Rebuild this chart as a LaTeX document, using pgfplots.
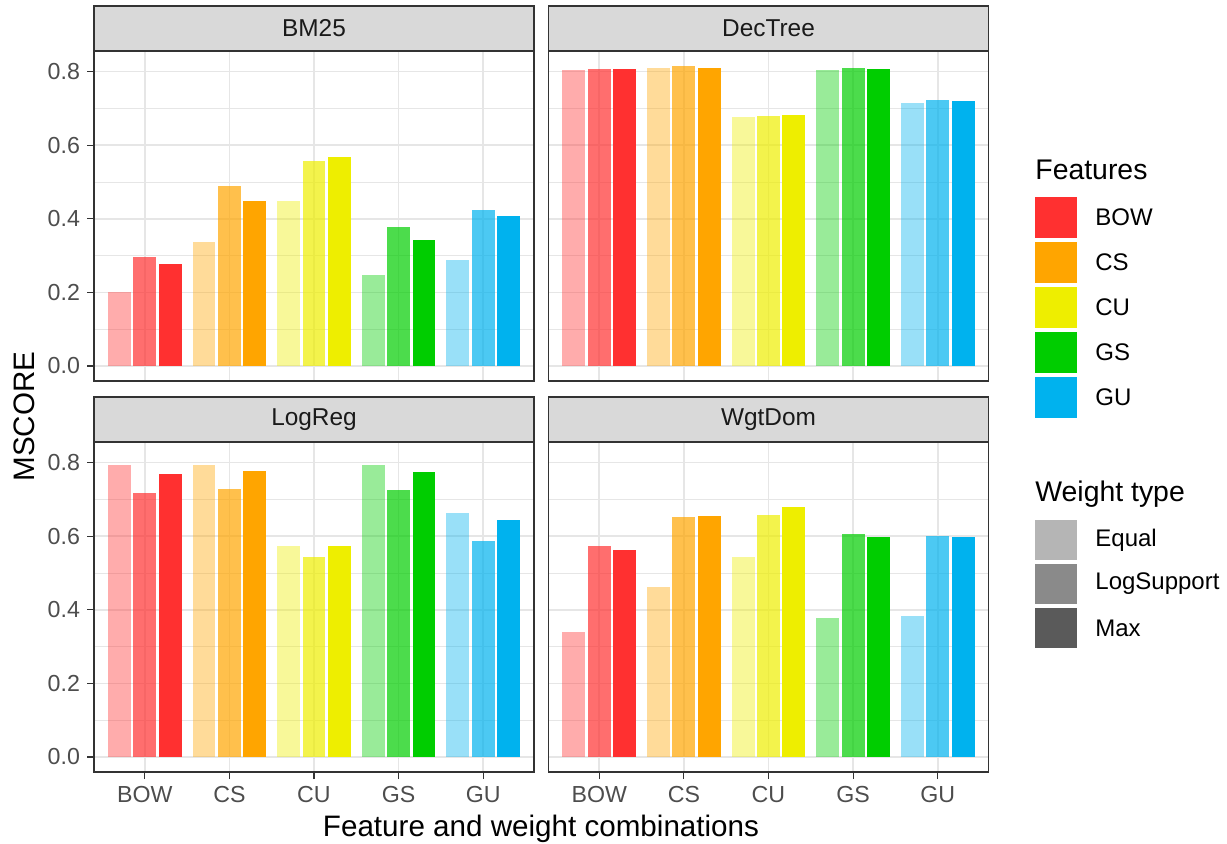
\documentclass[border=0pt]{standalone}
\usepackage{pgfplots}
\pgfplotsset{compat=1.18}
\usepackage{fontspec}
\setmainfont{Liberation Sans}
\definecolor{cBOW}{HTML}{FF3030}
\definecolor{cCS}{HTML}{FFA500}
\definecolor{cCU}{HTML}{EEEE00}
\definecolor{cGS}{HTML}{00CD00}
\definecolor{cGU}{HTML}{00B2EE}
\definecolor{gridc}{HTML}{E6E6E6}
\definecolor{g10}{HTML}{1A1A1A}
\definecolor{g20}{HTML}{333333}
\definecolor{g30}{HTML}{4D4D4D}
\definecolor{g85}{HTML}{D9D9D9}
\definecolor{wEq}{HTML}{B5B5B5}
\definecolor{wLs}{HTML}{8A8A8A}
\definecolor{wMx}{HTML}{5A5A5A}
\pgfplotsset{
  panel/.style={
    scale only axis, width=220pt, height=165pt, anchor=south west,
    xmin=0.4, xmax=5.6, ymin=-0.041, ymax=0.856,
    xtick={1,2,3,4,5}, xticklabels={BOW,CS,CU,GS,GU},
    ytick={0,0.2,0.4,0.6,0.8}, yticklabels={0.0,0.2,0.4,0.6,0.8},
    minor ytick={0.1,0.3,0.5,0.7},
    xmajorgrids, ymajorgrids, yminorgrids,
    major grid style={draw=gridc, line width=0.8pt},
    minor grid style={draw=gridc, line width=0.45pt},
    axis line style={draw=g20, line width=0.75pt},
    tick align=outside, major tick length=3.5pt, minor tick length=0pt,
    tick style={draw=g20, line width=0.6pt},
    ticklabel style={font=\fontsize{11.6}{13}\selectfont, text=g30},
    ytick pos=left, xtick pos=bottom,
  },
  notop/.style={xticklabels={}, xtick style={draw=none}},
  noleft/.style={yticklabels={}, ytick style={draw=none}},
  eq/.style={ybar, bar width=0.27, bar shift=-0.3, draw=none, fill=#1, fill opacity=0.4},
  ls/.style={ybar, bar width=0.27, bar shift=0, draw=none, fill=#1, fill opacity=0.7},
  mx/.style={ybar, bar width=0.27, bar shift=0.3, draw=none, fill=#1},
}
\newcommand\strip[2]{%
  \draw[fill=g85, draw=g20, line width=0.75pt] (#1.north west) rectangle ([yshift=22.5pt]#1.north east);
  \node[font=\fontsize{12.2}{14}\selectfont, text=g10] at ([yshift=11.25pt]#1.north) {#2};}
\begin{document}
\begin{tikzpicture}
\useasboundingbox (0,0) rectangle (613.5pt,-421.5pt);
% BM25
\begin{axis}[panel, notop, name=bm, at={(47pt,-190.5pt)}]
\addplot[eq=cBOW] coordinates {(1,0.200)};
\addplot[ls=cBOW] coordinates {(1,0.296)};
\addplot[mx=cBOW] coordinates {(1,0.278)};
\addplot[eq=cCS] coordinates {(2,0.336)};
\addplot[ls=cCS] coordinates {(2,0.488)};
\addplot[mx=cCS] coordinates {(2,0.448)};
\addplot[eq=cCU] coordinates {(3,0.448)};
\addplot[ls=cCU] coordinates {(3,0.556)};
\addplot[mx=cCU] coordinates {(3,0.569)};
\addplot[eq=cGS] coordinates {(4,0.246)};
\addplot[ls=cGS] coordinates {(4,0.378)};
\addplot[mx=cGS] coordinates {(4,0.342)};
\addplot[eq=cGU] coordinates {(5,0.289)};
\addplot[ls=cGU] coordinates {(5,0.423)};
\addplot[mx=cGU] coordinates {(5,0.407)};
\end{axis}
\strip{bm}{BM25}
% DecTree
\begin{axis}[panel, notop, noleft, name=dt, at={(274.25pt,-190.5pt)}]
\addplot[eq=cBOW] coordinates {(1,0.805)};
\addplot[ls=cBOW] coordinates {(1,0.807)};
\addplot[mx=cBOW] coordinates {(1,0.806)};
\addplot[eq=cCS] coordinates {(2,0.809)};
\addplot[ls=cCS] coordinates {(2,0.815)};
\addplot[mx=cCS] coordinates {(2,0.810)};
\addplot[eq=cCU] coordinates {(3,0.676)};
\addplot[ls=cCU] coordinates {(3,0.679)};
\addplot[mx=cCU] coordinates {(3,0.681)};
\addplot[eq=cGS] coordinates {(4,0.805)};
\addplot[ls=cGS] coordinates {(4,0.809)};
\addplot[mx=cGS] coordinates {(4,0.807)};
\addplot[eq=cGU] coordinates {(5,0.715)};
\addplot[ls=cGU] coordinates {(5,0.722)};
\addplot[mx=cGU] coordinates {(5,0.720)};
\end{axis}
\strip{dt}{DecTree}
% LogReg
\begin{axis}[panel, name=lr, at={(47pt,-386pt)}]
\addplot[eq=cBOW] coordinates {(1,0.793)};
\addplot[ls=cBOW] coordinates {(1,0.717)};
\addplot[mx=cBOW] coordinates {(1,0.770)};
\addplot[eq=cCS] coordinates {(2,0.794)};
\addplot[ls=cCS] coordinates {(2,0.729)};
\addplot[mx=cCS] coordinates {(2,0.776)};
\addplot[eq=cCU] coordinates {(3,0.572)};
\addplot[ls=cCU] coordinates {(3,0.543)};
\addplot[mx=cCU] coordinates {(3,0.572)};
\addplot[eq=cGS] coordinates {(4,0.794)};
\addplot[ls=cGS] coordinates {(4,0.725)};
\addplot[mx=cGS] coordinates {(4,0.775)};
\addplot[eq=cGU] coordinates {(5,0.663)};
\addplot[ls=cGU] coordinates {(5,0.587)};
\addplot[mx=cGU] coordinates {(5,0.643)};
\end{axis}
\strip{lr}{LogReg}
% WgtDom
\begin{axis}[panel, noleft, name=wd, at={(274.25pt,-386pt)}]
\addplot[eq=cBOW] coordinates {(1,0.339)};
\addplot[ls=cBOW] coordinates {(1,0.574)};
\addplot[mx=cBOW] coordinates {(1,0.563)};
\addplot[eq=cCS] coordinates {(2,0.463)};
\addplot[ls=cCS] coordinates {(2,0.653)};
\addplot[mx=cCS] coordinates {(2,0.655)};
\addplot[eq=cCU] coordinates {(3,0.544)};
\addplot[ls=cCU] coordinates {(3,0.657)};
\addplot[mx=cCU] coordinates {(3,0.679)};
\addplot[eq=cGS] coordinates {(4,0.379)};
\addplot[ls=cGS] coordinates {(4,0.607)};
\addplot[mx=cGS] coordinates {(4,0.598)};
\addplot[eq=cGU] coordinates {(5,0.382)};
\addplot[ls=cGU] coordinates {(5,0.601)};
\addplot[mx=cGU] coordinates {(5,0.598)};
\end{axis}
\strip{wd}{WgtDom}
% axis titles
\node[anchor=base, font=\fontsize{14.8}{17}\selectfont] at (270.5pt,-418.3pt) {Feature and weight combinations};
\node[anchor=base, rotate=90, font=\fontsize{14.8}{17}\selectfont] at (17pt,-208.25pt) {MSCORE};
% legend: Features
\node[anchor=base west, inner sep=0pt, font=\fontsize{14.2}{16}\selectfont] at (517.5pt,-89.7pt) {Features};
\foreach \c/\l [count=\i from 0] in {cBOW/BOW,cCS/CS,cCU/CU,cGS/GS,cGU/GU}{
  \fill[\c] (517.5pt,-98.5pt-22.5pt*\i) rectangle (538.5pt,-119pt-22.5pt*\i);
  \node[anchor=west, inner sep=0pt, font=\fontsize{12}{14}\selectfont] at (547.5pt,-108.75pt-22.5pt*\i) {\l};
}
% legend: Weight type
\node[anchor=base west, inner sep=0pt, font=\fontsize{14.2}{16}\selectfont] at (517.5pt,-250.8pt) {Weight type};
\foreach \c/\l [count=\i from 0] in {wEq/Equal,wLs/LogSupport,wMx/Max}{
  \fill[\c] (517.5pt,-260pt-22pt*\i) rectangle (538.5pt,-280pt-22pt*\i);
  \node[anchor=west, inner sep=0pt, font=\fontsize{12}{14}\selectfont] at (547.5pt,-270pt-22pt*\i) {\l};
}
\end{tikzpicture}
\end{document}
